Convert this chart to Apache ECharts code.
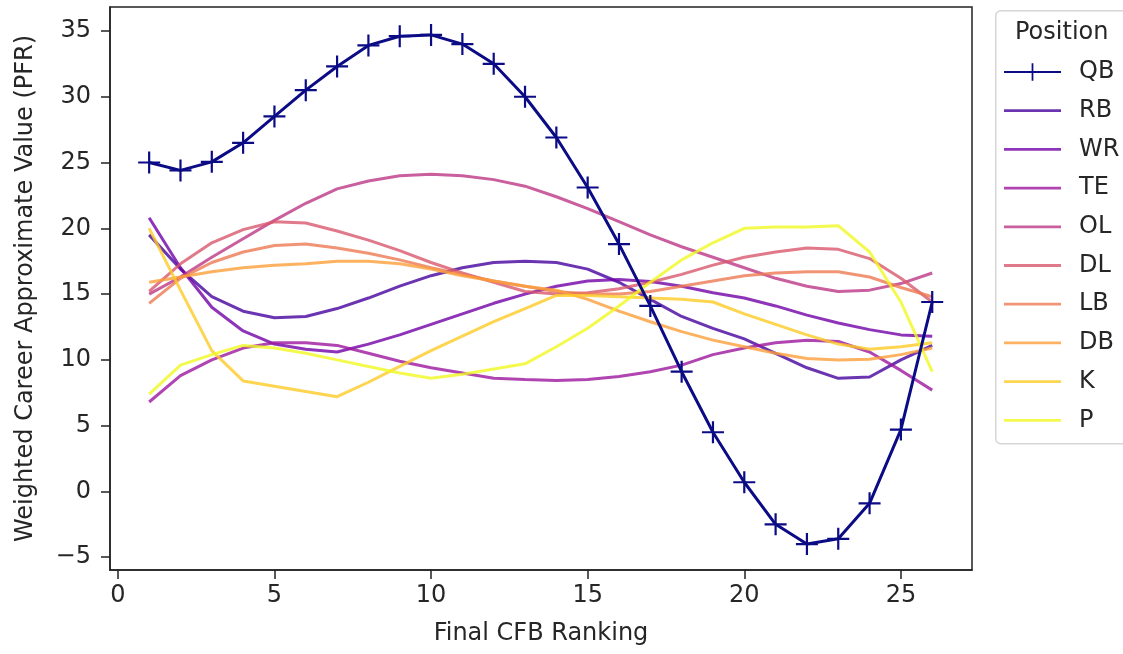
<!DOCTYPE html>
<html><head><meta charset="utf-8">
<script src="https://cdn.jsdelivr.net/npm/echarts@6/dist/echarts.min.js"></script>
<style>html,body{margin:0;padding:0;background:#fff}#c{width:1123px;height:654px}</style>
</head><body><div id="c"></div>
<script>
const ranks = [1,2,3,4,5,6,7,8,9,10,11,12,13,14,15,16,17,18,19,20,21,22,23,24,25,26];
const positions = ['QB','RB','WR','TE','OL','DL','LB','DB','K','P'];
const colors = ['#0d0887','#46039f','#7201a8','#9c179e','#bd3786','#d8576b','#ed7953','#fb9f3a','#fdca26','#f0f921'];
const QB = [25.0,24.4,25.05,26.5,28.5,30.5,32.3,33.9,34.6,34.7,34.0,32.5,30.0,26.9,23.1,18.8,14.1,9.1,4.5,0.7,-2.5,-4.0,-3.6,-0.9,4.7,14.4];
const RB = [19.5,16.9,14.8,13.7,13.2,13.3,13.9,14.7,15.6,16.4,17.0,17.4,17.5,17.4,16.9,15.9,14.6,13.3,12.4,11.6,10.5,9.4,8.6,8.7,10.0,11.1];
const WR = [20.8,17.0,14.0,12.2,11.2,10.8,10.6,11.2,11.9,12.7,13.5,14.3,15.0,15.6,16.0,16.1,15.95,15.6,15.1,14.7,14.1,13.4,12.8,12.3,11.9,11.8];
const TE = [6.8,8.8,10.0,10.9,11.3,11.3,11.1,10.5,9.9,9.4,9.0,8.6,8.5,8.43,8.5,8.74,9.1,9.6,10.4,10.9,11.3,11.5,11.4,10.6,9.2,7.7];
const OL = [15.0,16.3,17.8,19.2,20.6,21.9,23.0,23.6,24.0,24.1,24.0,23.7,23.2,22.4,21.5,20.5,19.5,18.6,17.8,17.0,16.2,15.6,15.2,15.3,15.8,16.6];
const DL = [15.2,17.3,18.9,19.9,20.5,20.4,19.8,19.1,18.3,17.4,16.6,15.9,15.2,15.0,15.1,15.4,15.9,16.5,17.2,17.8,18.2,18.5,18.4,17.7,16.2,14.4];
const LB = [14.3,16.2,17.4,18.2,18.7,18.8,18.5,18.1,17.6,17.0,16.5,16.0,15.6,15.2,15.0,15.0,15.2,15.6,16.0,16.4,16.6,16.7,16.7,16.3,15.5,14.8];
const DB = [15.9,16.3,16.7,17.0,17.2,17.3,17.5,17.5,17.3,16.9,16.4,16.0,15.6,15.3,14.6,13.7,12.9,12.15,11.5,11.0,10.5,10.1,10.0,10.05,10.4,10.9];
const K  = [20.0,15.3,10.7,8.4,8.0,7.6,7.2,8.3,9.5,10.7,11.8,12.9,13.9,14.9,14.9,14.8,14.7,14.6,14.4,13.5,12.7,11.9,11.2,10.8,11.0,11.3];
const P  = [7.4,9.6,10.4,11.1,10.9,10.5,10.0,9.5,9.0,8.6,8.9,9.3,9.7,11.0,12.4,14.1,15.9,17.6,18.9,20.0,20.1,20.1,20.2,18.2,14.4,9.1];
const xTicks = [0,5,10,15,20,25];
const yTicks = [-5,0,5,10,15,20,25,30,35];
const xTitle = 'Final CFB Ranking';
const yTitle = 'Weighted Career Approximate Value (PFR)';
const legendTitle = 'Position';

const values = [QB,RB,WR,TE,OL,DL,LB,DB,K,P];
const FONT = 'DejaVu Sans';
const TXT = '#262626';
const plus = 'path://M0,9H20V11H0ZM9,0H11V20H9Z';
const lineIcon = 'path://M0,0L0,0M0,9.6H57V12.4H0ZM57,22L57,22';

const series = positions.map((name, i) => {
  const isQB = i === 0;
  return {
    name, type: 'line',
    data: ranks.map((r, j) => [r, values[i][j]]),
    smooth: false,
    symbol: isQB ? plus : 'none',
    symbolSize: 22,
    showSymbol: isQB,
    lineStyle: { color: colors[i], width: 3, opacity: isQB ? 1 : 0.8 },
    itemStyle: { color: colors[i], opacity: isQB ? 1 : 0.8 },
    z: isQB ? 3 : 2,
    animation: false,
    emphasis: { disabled: true }
  };
});
// QB drawn in navy
series[0].lineStyle.color = '#0b0b85';
series[0].itemStyle.color = '#0b0b85';

const legendData = positions.map((name, i) => i === 0 ? { name } : { name, icon: lineIcon });

const chart = echarts.init(document.getElementById('c'), null, { renderer: 'canvas' });
chart.setOption({
  backgroundColor: '#fff',
  animation: false,
  grid: { left: 110, right: 151, top: 7, bottom: 84, show: true, borderColor: '#222', borderWidth: 1.5, containLabel: false },
  xAxis: {
    type: 'value', min: -0.25, max: 27.27,
    name: xTitle, nameLocation: 'middle', nameGap: 52,
    nameTextStyle: { fontFamily: FONT, fontSize: 24, color: TXT },
    axisLine: { show: true, onZero: false, lineStyle: { color: '#222', width: 1.5 } },
    axisTick: { show: true, inside: false, length: 9, customValues: xTicks, lineStyle: { color: '#222', width: 1.5 } },
    axisLabel: { customValues: xTicks, margin: 14, fontFamily: FONT, fontSize: 24, color: TXT },
    splitLine: { show: false }
  },
  yAxis: {
    type: 'value', min: -5.97, max: 36.82,
    name: yTitle, nameLocation: 'middle', nameGap: 72, nameRotate: 90,
    nameTextStyle: { fontFamily: FONT, fontSize: 24, color: TXT },
    axisLine: { show: true, onZero: false, lineStyle: { color: '#222', width: 1.5 } },
    axisTick: { show: true, inside: false, length: 9, customValues: yTicks, lineStyle: { color: '#222', width: 1.5 } },
    axisLabel: { customValues: yTicks, margin: 19, fontFamily: FONT, fontSize: 24, color: TXT,
      formatter: v => (v < 0 ? '\u2212' + Math.abs(v) : String(v)) },
    splitLine: { show: false }
  },
  legend: {
    orient: 'vertical', left: 1003, top: 60, padding: 0,
    itemWidth: 57, itemHeight: 22, itemGap: 14.7,
    data: legendData,
    formatter: '{a|{name}}',
    textStyle: { fontFamily: FONT, fontSize: 24, color: TXT,
      rich: { a: { fontFamily: FONT, fontSize: 24, color: TXT, padding: [0,0,0,13], lineHeight: 24 } } },
    selectedMode: false
  },
  graphic: [
    { type: 'rect', left: 995, top: 10, shape: { width: 150, height: 433, r: 5 },
      style: { fill: 'rgba(255,255,255,0.8)', stroke: '#d6d6d6', lineWidth: 1.5 }, z: 0 },
    { type: 'text', left: 1015, top: 21, style: { text: legendTitle, font: '24px "DejaVu Sans"', fill: TXT }, z: 10 }
  ],
  series
});
</script>
</body></html>
